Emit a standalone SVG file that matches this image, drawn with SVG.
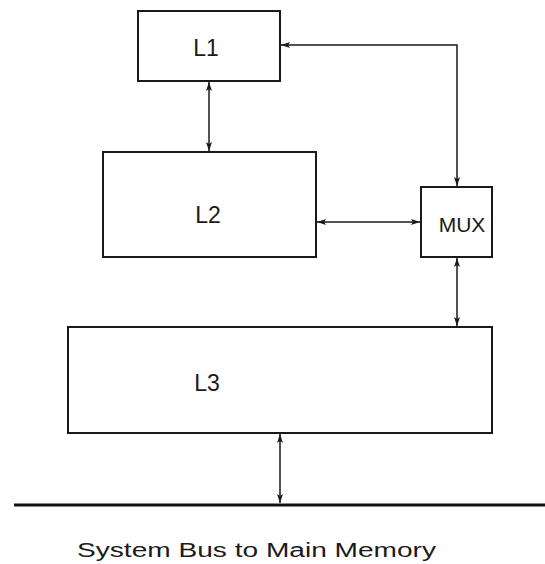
<svg xmlns="http://www.w3.org/2000/svg" width="545" height="564" viewBox="0 0 545 564">
<style>
.box{fill:#fff;stroke:#1a1a1a;stroke-width:2}
.lbl{font-family:"Liberation Sans",Arial,sans-serif;font-size:23px;fill:#1a1a1a;text-anchor:middle}
.conn{fill:none;stroke:#1a1a1a;stroke-width:1.5}
</style>
<defs>
<marker id="ah" markerUnits="userSpaceOnUse" markerWidth="10" markerHeight="8" refX="9" refY="4" orient="auto-start-reverse">
<path d="M0,1 L9,4 L0,7 L2,4 Z" fill="#1a1a1a"/>
</marker>
</defs>
<rect width="545" height="564" fill="#fff"/>
<g id="L1"><rect class="box" x="138" y="11" width="142" height="70"/><text class="lbl" x="206" y="56">L1</text></g>
<g id="L2"><rect class="box" x="103" y="152" width="213" height="105"/><text class="lbl" x="208" y="223" font-size="24">L2</text></g>
<g id="MUX"><rect class="box" x="421" y="187" width="71" height="70"/><text class="lbl" x="462" y="232" style="font-size:21px">MUX</text></g>
<g id="L3"><rect class="box" x="68" y="327" width="424" height="106"/><text class="lbl" x="207" y="391">L3</text></g>
<g id="bus"><line x1="14" y1="505" x2="545" y2="505" stroke="#111" stroke-width="3"/><text x="77" y="557" font-family="'Liberation Sans',Arial,sans-serif" font-size="20" fill="#1a1a1a" textLength="359" lengthAdjust="spacingAndGlyphs">System Bus to Main Memory</text></g>
<g id="connectors">
<line class="conn" x1="209" y1="82" x2="209" y2="151" marker-start="url(#ah)" marker-end="url(#ah)"/>
<polyline class="conn" points="281,45 457,45 457,186" marker-start="url(#ah)" marker-end="url(#ah)"/>
<line class="conn" x1="317" y1="222" x2="420" y2="222" marker-start="url(#ah)" marker-end="url(#ah)"/>
<line class="conn" x1="457" y1="258" x2="457" y2="326" marker-start="url(#ah)" marker-end="url(#ah)"/>
<line class="conn" x1="280" y1="434" x2="280" y2="503" marker-start="url(#ah)" marker-end="url(#ah)"/>
</g>
</svg>
